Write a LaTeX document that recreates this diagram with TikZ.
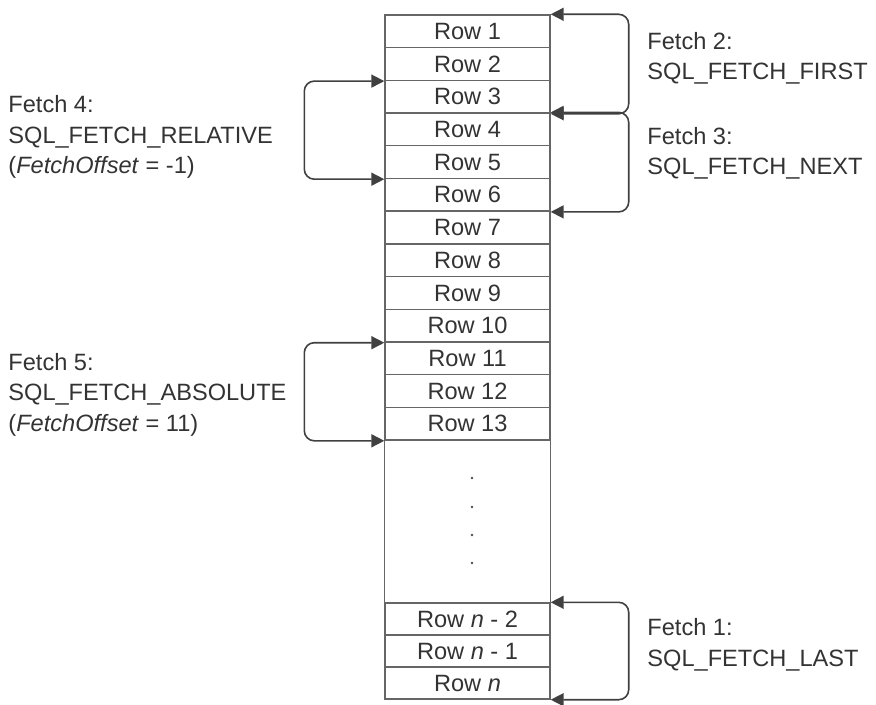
\documentclass[tikz,border=0pt]{standalone}
\usepackage{fontspec}
\setmainfont{Liberation Sans}
\usetikzlibrary{arrows.meta}

\tikzset{
  rowbox/.style={draw=black!60,line width=0.7pt,minimum width=82.5pt,
    minimum height=16.35pt,inner sep=0pt,text=black!80,
    font=\fontsize{11.8}{14}\selectfont},
  fetch/.style={{Triangle[length=6.5pt,width=6.5pt]}-{Triangle[length=6.5pt,width=6.5pt]},
    draw=black!75,line width=0.8pt,rounded corners=5pt},
  fetchlabel/.style={anchor=base west,align=left,inner sep=0pt,text=black!80,
    font=\fontsize{11.8}{15.25}\selectfont}
}

\begin{document}
\begin{tikzpicture}[x=0.5pt,y=-0.5pt]
  \useasboundingbox (0,0) rectangle (876,705);

  % the rowset
  \foreach \i in {1,...,13}
    \node[rowbox] (r\i) at (467.5,{15+32.7*(\i-0.5)}) {Row \i};
  \node[rowbox,minimum height=16pt] (rn2) at (467.5,619) {Row \textit{n} - 2};
  \node[rowbox,minimum height=16pt] (rn1) at (467.5,651) {Row \textit{n} - 1};
  \node[rowbox,minimum height=16pt] (rn)  at (467.5,683) {Row \textit{n}};
  \draw[black!60,line width=0.7pt] (r1.north west) rectangle (rn.south east);
  \foreach \y in {478,507,535,563}
    \fill[black!70] (472,\y) circle (1.3);

  % fetches on the right
  \draw[fetch] (r1.north east) -- ++(78,0) |- (r3.south east);
  \draw[fetch] (r4.north east) -- ++(78,0) |- (r6.south east);
  \draw[fetch] (rn2.north east) -- ++(78,0) |- (rn.south east);
  % fetches on the left
  \draw[fetch] (r2.south west) -- ++(-80,0) |- (r5.south west);
  \draw[fetch] (r10.south west) -- ++(-80,0) |- (r13.south west);

  % labels, anchored at the last line
  \node[fetchlabel] (f2) at (647,80) {Fetch 2:\\SQL\_FETCH\_FIRST};
  \node[fetchlabel] (f3) at (647,175) {Fetch 3:\\SQL\_FETCH\_NEXT};
  \node[fetchlabel] (f1) at (647,666) {Fetch 1:\\SQL\_FETCH\_LAST};
  \node[fetchlabel] (f4) at (8,174) {Fetch 4:\\SQL\_FETCH\_RELATIVE\\(\textit{FetchOffset} = -1)};
  \node[fetchlabel] (f5) at (8,431) {Fetch 5:\\SQL\_FETCH\_ABSOLUTE\\(\textit{FetchOffset} = 11)};
\end{tikzpicture}
\end{document}
